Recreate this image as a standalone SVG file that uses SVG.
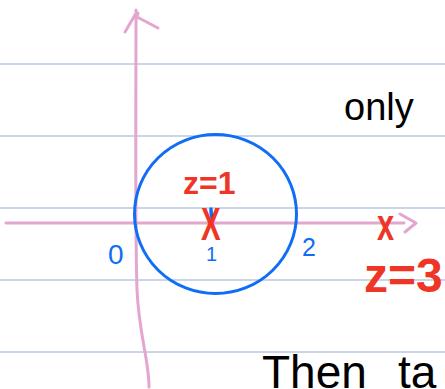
<svg xmlns="http://www.w3.org/2000/svg" width="445" height="389" viewBox="0 0 445 389">
  <style>
    .rule { stroke: #b9c8dc; stroke-width: 1.5; }
    .axis { fill: none; stroke: #e3a6cf; stroke-width: 3; stroke-linecap: round; stroke-linejoin: round; }
    .red { fill: #ee3526; font-family: "Liberation Sans", Arial, sans-serif; font-weight: bold; }
    .blue { fill: #0f6ef5; font-family: "Liberation Sans", Arial, sans-serif; }
    .ink { fill: #000000; font-family: "Liberation Sans", Arial, sans-serif; }
  </style>
  <rect x="0" y="0" width="445" height="389" fill="#ffffff"/>
  <g id="ruled-lines">
    <line class="rule" x1="0" y1="64" x2="445" y2="64"/>
    <line class="rule" x1="0" y1="136" x2="445" y2="136"/>
    <line class="rule" x1="0" y1="208" x2="445" y2="208"/>
    <line class="rule" x1="0" y1="280" x2="445" y2="280"/>
    <line class="rule" x1="0" y1="352" x2="445" y2="352"/>
  </g>
  <g id="axes">
    <path class="axis" d="M6,223 L404,223"/>
    <polyline class="axis" points="400,214 416,223 405,232"/>
    <path class="axis" d="M136,10 C136,120 135,230 137,290 C139,335 149,360 149,387"/>
    <polyline class="axis" points="125,32 135,15 138,13 137,17 158,28"/>
  </g>
  <g id="circle">
    <ellipse cx="215.5" cy="214" rx="81" ry="79.5" fill="none" stroke="#0f6ef5" stroke-width="3"/>
    <line x1="211" y1="209" x2="211.5" y2="221" stroke="#0f6ef5" stroke-width="3.5" stroke-linecap="round"/>
  </g>
  <g id="labels">
    <text class="red" x="183" y="194" font-size="32">z=1</text>
    <text class="red" font-size="46" transform="translate(201,240) scale(0.64,1)">X</text>
    <text class="blue" x="206" y="261" font-size="20">1</text>
    <text class="blue" x="302" y="256" font-size="25">2</text>
    <text class="blue" x="108" y="264" font-size="28">0</text>
    <text class="red" font-size="44" transform="translate(377,240) scale(0.7,1)">x</text>
    <text class="red" x="364" y="292" font-size="48">z=3</text>
  </g>
  <g id="notes">
    <text class="ink" x="344" y="120" font-size="38">only</text>
    <text class="ink" x="262" y="388" font-size="46">Then</text>
    <text class="ink" x="398" y="388" font-size="46">ta</text>
  </g>
</svg>
